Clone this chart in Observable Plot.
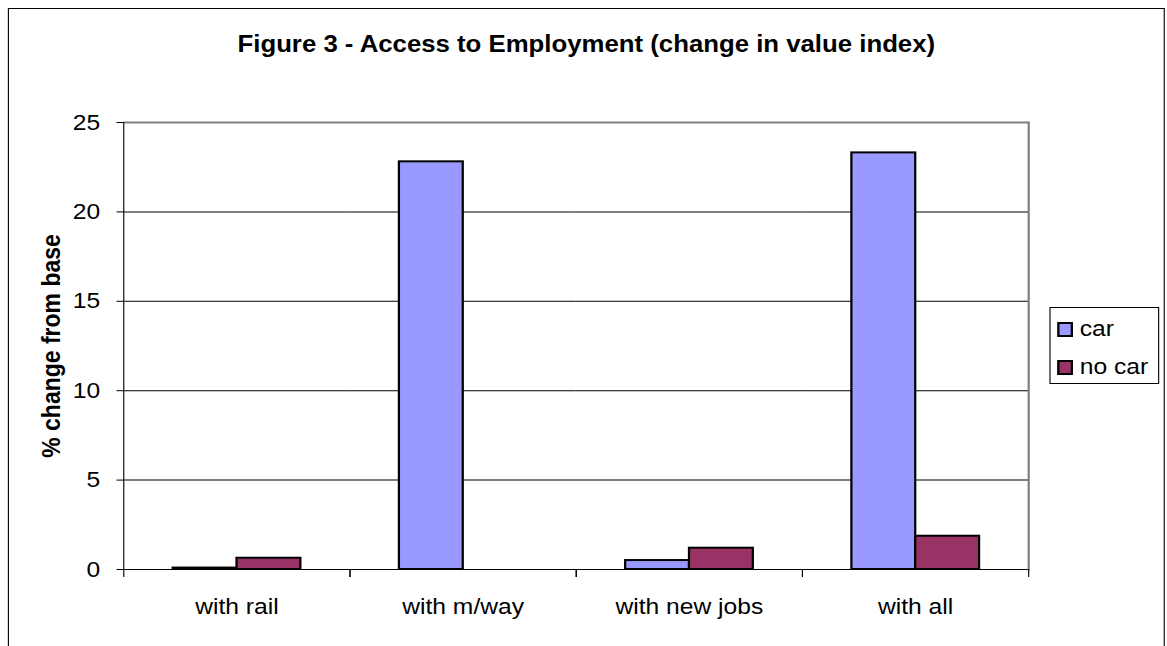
<!DOCTYPE html>
<html>
<head>
<meta charset="utf-8">
<script src="https://cdn.jsdelivr.net/npm/d3@7"></script>
<script src="https://cdn.jsdelivr.net/npm/@observablehq/plot@0.6"></script>
<style>
  html, body { margin: 0; padding: 0; background: #fff; overflow: hidden; }
  #wrap { position: relative; width: 1042px; height: 646px; transform-origin: 0 0; transform: scaleX(1.12);
          font-family: "Liberation Sans", Arial, sans-serif; color: #000; }
  #frame { position: absolute; left: 7px; top: 8px; width: 1033px; height: 700px; border: 1px solid #000; box-sizing: border-box; }
  #title { position: absolute; left: 7px; width: 1033px; top: 33px; text-align: center; font-weight: bold; font-size: 23px; line-height: 1; }
  #chart { position: absolute; left: 0; top: 0; }
  #legend { position: absolute; left: 937px; top: 307px; width: 98px; height: 77px; border: 1px solid #000; box-sizing: border-box; background: #fff; }
  .item { position: absolute; left: 6px; height: 22px; display: flex; align-items: center; font-size: 22px; line-height: 1; }
  .sw { width: 10px; height: 11px; border: 2px solid #000; margin-right: 6px; }
</style>
</head>
<body>
<div id="wrap">
  <div id="frame"></div>
  <div id="title">Figure 3 - Access to Employment (change in value index)</div>
  <div id="chart"></div>
  <div id="legend"></div>
</div>
<script>
// ---- data ----
const categories = ["with rail", "with m/way", "with new jobs", "with all"];
const seriesNames = ["car", "no car"];
const carValues = [0.08, 22.8, 0.5, 23.3];
const noCarValues = [0.63, 0, 1.19, 1.86];
const yTicks = [0, 5, 10, 15, 20, 25];
const seriesColors = ["#9999FF", "#993366"];
const titleText = "Figure 3 - Access to Employment (change in value index)";
const yLabel = "% change from base";

// ---- layout ----
const S = 1.12;               // horizontal stretch of the reference picture
const W = 1167 / S;

const rows = categories.flatMap((c, i) => [
  {category: c, series: seriesNames[0], value: carValues[i]},
  {category: c, series: seriesNames[1], value: noCarValues[i]}
]);

const font = '"Liberation Sans", Arial, sans-serif';

const chart = Plot.plot({
  width: W,
  height: 646,
  marginLeft: 123 / S,
  marginRight: (1167 - 1028) / S,
  marginTop: 122,
  marginBottom: 77,
  style: {fontFamily: font, fontSize: "22px", background: "transparent", color: "#000", overflow: "visible"},
  fx: {domain: categories, padding: 0, label: null},
  x: {domain: seriesNames, paddingInner: 0, paddingOuter: 0.75, axis: null},
  y: {domain: [0, 25]},
  color: {domain: seriesNames, range: seriesColors},
  marks: [
    Plot.gridY(yTicks, {stroke: "#000", strokeOpacity: 1, strokeWidth: 1}),
    Plot.ruleY([25], {stroke: "#808080", strokeWidth: 2}),
    Plot.barY(rows, {fx: "category", x: "series", y: "value", fill: "series", stroke: "#000", strokeWidth: 2}),
    Plot.ruleY([0], {stroke: "#000", strokeWidth: 1}),
    Plot.frame({anchor: "left", facet: "super", stroke: "#000", strokeWidth: 1}),
    Plot.frame({anchor: "right", facet: "super", stroke: "#808080", strokeWidth: 2}),
    Plot.frame({anchor: "left", insetTop: 447, insetBottom: -7, stroke: "#000"}),
    Plot.frame({anchor: "right", insetTop: 447, insetBottom: -7, stroke: "#000"}),
    Plot.axisY(yTicks, {tickSize: 6, tickPadding: 15, label: null, fontSize: 22}),
    Plot.axisY([], {label: yLabel, labelAnchor: "center", labelOffset: 73, labelArrow: "none", fontSize: 23, fontWeight: "bold", tickSize: 0}),
    Plot.axisFx({anchor: "bottom", tickSize: 0, tickPadding: 29, label: null, fontSize: 22})
  ]
});
document.getElementById("chart").appendChild(chart);

// ---- legend ----
const legend = document.getElementById("legend");
const rowTops = [10, 48];
seriesNames.forEach((name, i) => {
  const item = document.createElement("div");
  item.className = "item";
  item.style.top = rowTops[i] + "px";
  const sw = document.createElement("span");
  sw.className = "sw";
  sw.style.background = seriesColors[i];
  const t = document.createElement("span");
  t.textContent = name;
  item.appendChild(sw);
  item.appendChild(t);
  legend.appendChild(item);
});
</script>
</body>
</html>
